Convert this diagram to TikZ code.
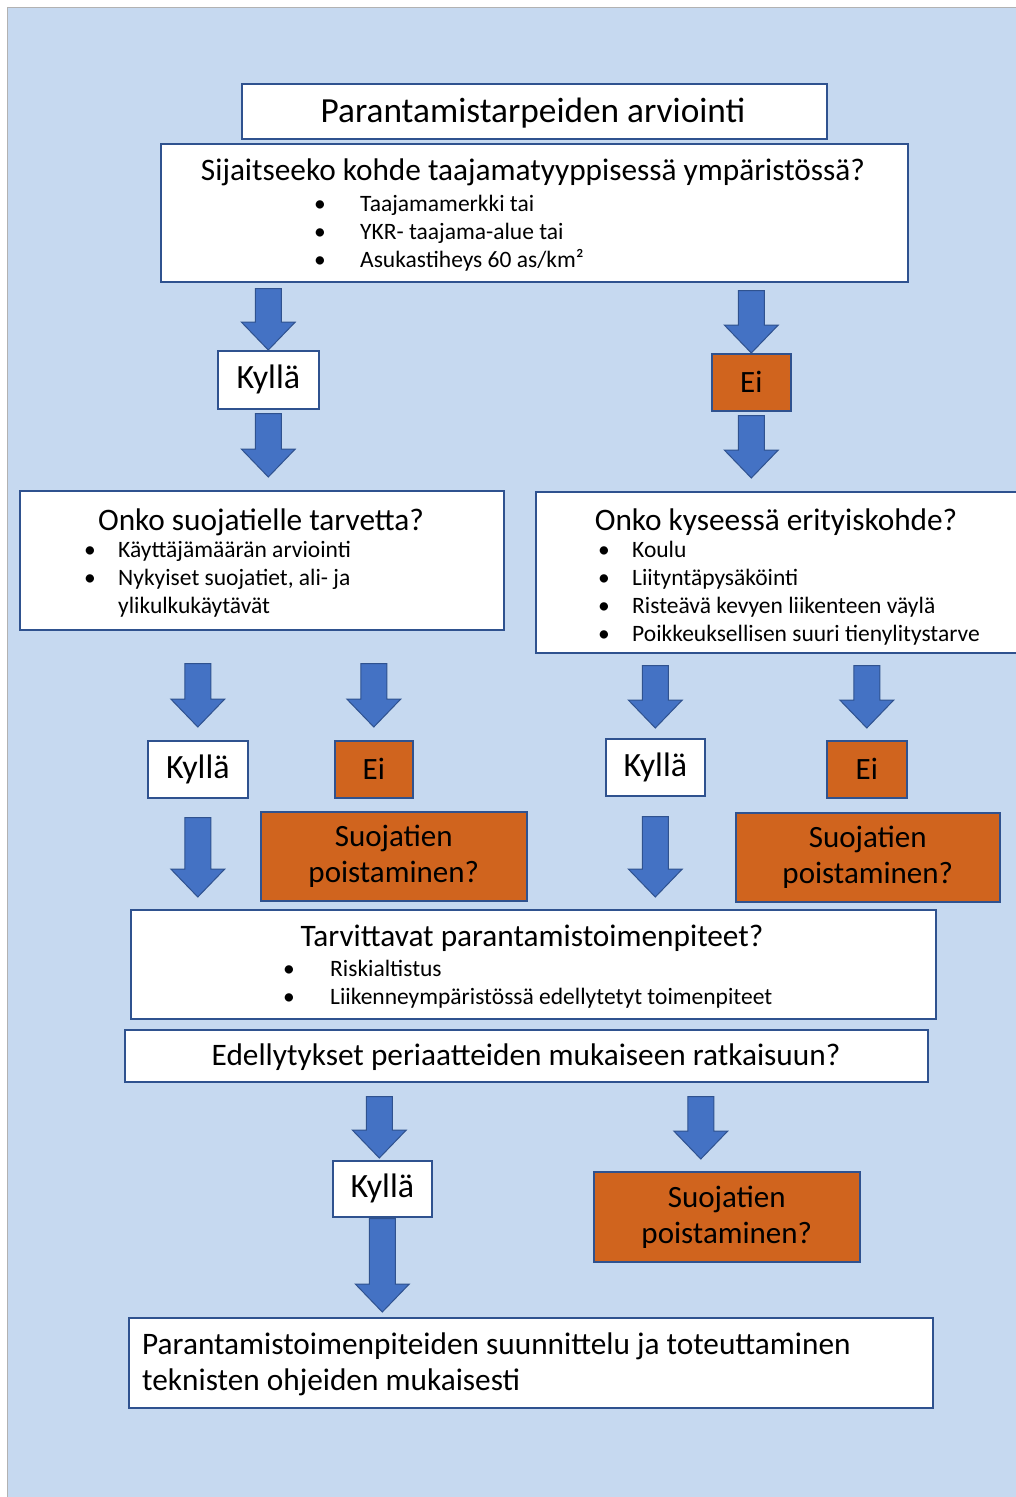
\documentclass[tikz,border=0pt]{standalone}
\usepackage{fontspec}
\setmainfont{Carlito}
\usetikzlibrary{calc}
\definecolor{bgblue}{RGB}{198,217,240}
\definecolor{boxline}{RGB}{47,82,143}
\definecolor{arrfill}{RGB}{68,114,196}
\definecolor{arrline}{RGB}{47,82,143}
\definecolor{ored}{RGB}{208,100,30}
\tikzset{
  box/.style={draw=boxline,line width=1.6pt,fill=white,inner sep=0pt,anchor=north west},
  obox/.style={box,fill=ored},
  ans/.style={font=\fontsize{31}{36}\selectfont},
  yes/.style={font=\fontsize{34}{38}\selectfont},
  head/.style={anchor=base,inner sep=0pt,font=\fontsize{31.3}{36}\selectfont},
  blist/.style={anchor=base west,inner sep=0pt,font=\fontsize{23.5}{28.2}\selectfont},
  barrow/.style={fill=arrfill,draw=arrline,line width=1pt,
    to path={let \p1=(\tikztostart),\p2=(\tikztotarget) in
      (\x2-13pt,\y1) -- (\x2+13pt,\y1) -- (\x2+13pt,\y2+28pt) -- (\x2+27pt,\y2+28pt)
      -- (\x2,\y2) -- (\x2-27pt,\y2+28pt) -- (\x2-13pt,\y2+28pt) -- cycle}}
}
\begin{document}
\begin{tikzpicture}[x=1pt,y=-1pt]
\useasboundingbox (0,0) rectangle (1015,1497);
\fill[white] (0,0) rectangle (1015,1497);
\draw[fill=bgblue,draw=gray!60] (7,7) rectangle (1016,1498);

% top
\node[box,minimum width=585pt,minimum height=55pt] (tit) at (241,83) {};
\node[head,font=\fontsize{35.3}{40}\selectfont] (titt) at (533,122) {Parantamistarpeiden arviointi};
\node[box,minimum width=747pt,minimum height=138pt] (sij) at (160,143) {};
\node[head] (sijh) at (533,180) {Sijaitseeko kohde taajamatyyppisessä ympäristössä?};
\node[blist] (sijl) at (314,211) {\begin{tabular}[t]{@{}p{46pt}@{}l@{}}
  • & Taajamamerkki tai\\ • & YKR- taajama-alue tai\\ • & Asukastiheys 60 as/km²\end{tabular}};

\node[box,yes,minimum width=101pt,minimum height=58pt] (kyl1) at (217,350) {Kyllä};
\node[obox,ans,minimum width=79pt,minimum height=57pt] (ei1) at (711,353) {Ei};

% second row
\node[box,minimum width=484pt,minimum height=139pt] (suo) at (19,490) {};
\node[head] (suoh) at (261,530) {Onko suojatielle tarvetta?};
\node[blist] (suol) at (84,557) {\begin{tabular}[t]{@{}p{34pt}@{}l@{}}
  • & Käyttäjämäärän arviointi\\ • & Nykyiset suojatiet, ali- ja\\ & ylikulkukäytävät\end{tabular}};
\node[box,minimum width=490pt,minimum height=161pt] (eri) at (535,491) {};
\node[head] (erih) at (776,530) {Onko kyseessä erityiskohde?};
\node[blist] (eril) at (598,557) {\begin{tabular}[t]{@{}p{34pt}@{}l@{}}
  • & Koulu\\ • & Liityntäpysäköinti\\ • & Risteävä kevyen liikenteen väylä\\
  • & Poikkeuksellisen suuri tienylitystarve\end{tabular}};

\node[box,yes,minimum width=100pt,minimum height=57pt] (kyl2) at (147,740) {Kyllä};
\node[obox,ans,minimum width=78pt,minimum height=57pt] (ei2) at (334,740) {Ei};
\node[box,yes,minimum width=99pt,minimum height=57pt] (kyl3) at (605,738) {Kyllä};
\node[obox,ans,minimum width=80pt,minimum height=57pt] (ei3) at (826,740) {Ei};
\node[obox,ans,align=center,minimum width=266pt,minimum height=89pt] (sp1) at (260,811) {Suojatien\\poistaminen?};
\node[obox,ans,align=center,minimum width=264pt,minimum height=89pt] (sp2) at (735,812) {Suojatien\\poistaminen?};

% lower part
\node[box,minimum width=805pt,minimum height=109pt] (tarv) at (130,909) {};
\node[head] (tarvh) at (532,946) {Tarvittavat parantamistoimenpiteet?};
\node[blist] (tarvl) at (283,976) {\begin{tabular}[t]{@{}p{47pt}@{}l@{}}
  • & Riskialtistus\\ • & Liikenneympäristössä edellytetyt toimenpiteet\end{tabular}};
\node[box,minimum width=803pt,minimum height=52pt] (edel) at (124,1029) {};
\node[head] (edelh) at (526,1065) {Edellytykset periaatteiden mukaiseen ratkaisuun?};

\node[box,yes,minimum width=99pt,minimum height=56pt] (kyl4) at (332,1160) {Kyllä};
\node[obox,ans,align=center,minimum width=266pt,minimum height=90pt] (sp3) at (593,1171) {Suojatien\\poistaminen?};

\node[box,minimum width=804pt,minimum height=90pt] (fin) at (128,1317) {};
\node[anchor=base west,inner sep=0pt,align=left,font=\fontsize{31.3}{36}\selectfont] (fint) at (142,1390)
  {Parantamistoimenpiteiden suunnittelu ja toteuttaminen\\teknisten ohjeiden mukaisesti};

% arrows
\draw[barrow] ($(sij.south -| kyl1.north)+(0,6)$) to (kyl1.north);
\draw[barrow] ($(sij.south -| ei1.north)+(0,8)$) to (ei1.north);
\draw[barrow] ($(kyl1.south)+(0,4)$) to ($(kyl1.south |- suo.north)+(0,-13)$);
\draw[barrow] ($(ei1.south)+(0,4)$) to ($(ei1.south |- eri.north)+(0,-13)$);
\draw[barrow] ($(suo.south -| kyl2.north)+(0,33)$) to ($(kyl2.north)+(0,-13)$);
\draw[barrow] ($(suo.south -| ei2.north)+(0,33)$) to ($(ei2.north)+(0,-13)$);
\draw[barrow] ($(eri.south -| kyl3.north)+(0,12)$) to ($(kyl3.north)+(0,-10)$);
\draw[barrow] ($(eri.south -| ei3.north)+(0,12)$) to ($(ei3.north)+(0,-12)$);
\draw[barrow] ($(kyl2.south)+(0,19)$) to ($(kyl2.south |- tarv.north)+(0,-12)$);
\draw[barrow] ($(kyl3.south)+(0,20)$) to ($(kyl3.south |- tarv.north)+(0,-12)$);
\draw[barrow] ($(edel.south -| kyl4.north)+(-3,14)$) to ($(kyl4.north)+(-3,-2)$);
\draw[barrow] ($(edel.south -| sp3.north)+(-26,14)$) to ($(sp3.north)+(-26,-12)$);
\draw[barrow] ($(kyl4.south)+(0,1)$) to ($(kyl4.south |- fin.north)+(0,-5)$);
\end{tikzpicture}
\end{document}
